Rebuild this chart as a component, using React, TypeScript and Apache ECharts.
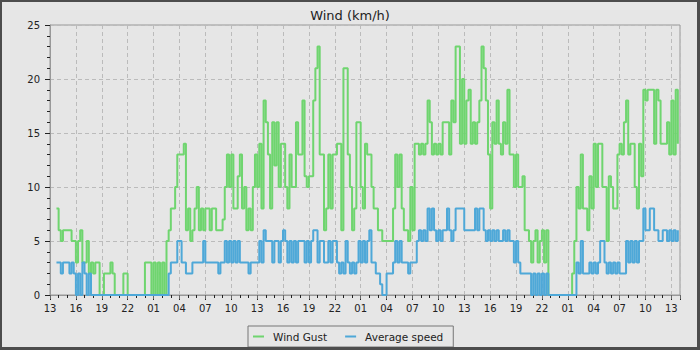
import React, { useEffect, useRef } from "react";
import * as echarts from "echarts";

// Hours since 13:00 on day 1; one sample every 15 minutes (4 per row = 1 hour)
const START_HOUR = 13;
const SAMPLE_STEP_H = 0.25;
const AXIS_MAX_H = 73;

const gustKmh: (number | null)[] = [
  null, null, null, 8, // 13h
  6, 5, 6, 6,
  6, 6, 5, 5,
  3, 5, 6, 3, // 16h
  3, 5, 2, 3,
  2, 3, 3, 0,
  0, 2, 2, 2, // 19h
  3, 2, 0, 0,
  0, 0, 2, 2,
  0, 0, 0, 0, // 22h
  0, 0, 0, 0,
  3, 3, 3, 0,
  3, 0, 3, 0, // 01h
  3, 0, 5, 6,
  8, 8, 10, 13,
  13, 13, 14, 6, // 04h
  8, 5, 6, 8,
  10, 6, 8, 6,
  8, 8, 6, 8, // 07h
  8, 6, 6, 6,
  7, 10, 13, 10,
  13, 8, 8, 11, // 10h
  13, 8, 10, 6,
  8, 6, 10, 13,
  10, 14, 8, 18, // 13h
  16, 13, 8, 16,
  12, 16, 10, 14,
  14, 10, 8, 13, // 16h
  10, 10, 16, 13,
  13, 18, 11, 10,
  11, 11, 18, 21, // 19h
  23, 13, 13, 6,
  8, 13, 8, 13,
  13, 14, 14, 6, // 22h
  21, 21, 13, 10,
  6, 8, 16, 16,
  10, 8, 14, 13, // 01h
  13, 10, 8, 8,
  6, 6, 5, 5,
  5, 5, 5, 8, // 04h
  13, 10, 13, 8,
  6, 6, 5, 10,
  6, 14, 14, 13, // 07h
  14, 13, 14, 18,
  16, 13, 14, 13,
  14, 13, 16, 16, // 10h
  16, 13, 18, 16,
  23, 23, 14, 20,
  14, 18, 19, 14, // 13h
  16, 14, 16, 18,
  23, 21, 18, 13,
  8, 16, 14, 18, // 16h
  14, 13, 16, 14,
  19, 13, 13, 10,
  13, 10, 10, 11, // 19h
  6, 6, 5, 3,
  5, 6, 3, 5,
  6, 3, 6, 0, // 22h
  0, 0, 0, 0,
  0, 0, 0, 0,
  0, 0, 2, 5, // 01h
  10, 8, 13, 8,
  8, 6, 11, 8,
  14, 10, 14, 14, // 04h
  10, 10, 5, 11,
  10, 8, 8, 13,
  14, 13, 16, 18, // 07h
  13, 14, 14, 10,
  8, 14, 11, 19,
  18, 19, 19, 19, // 10h
  14, 19, 18, 14,
  14, 14, 16, 13,
  18, 13, 19, 14, // 13h
];

const avgKmh: (number | null)[] = [
  null, null, null, 3, // 13h
  3, 2, 3, 3,
  3, 2, 3, 2,
  0, 2, 0, 3, // 16h
  2, 0, 2, 0,
  0, 0, 0, 0,
  0, 0, 0, 0, // 19h
  0, 0, 0, 0,
  0, 0, 0, 0,
  0, 0, 0, 0, // 22h
  0, 0, 0, 0,
  0, 0, 0, 0,
  0, 0, 0, 0, // 01h
  0, 0, 0, 2,
  3, 3, 3, 5,
  5, 3, 3, 2, // 04h
  2, 2, 3, 3,
  3, 3, 3, 5,
  3, 3, 3, 3, // 07h
  3, 3, 2, 3,
  3, 5, 3, 5,
  3, 5, 3, 5, // 10h
  3, 3, 3, 3,
  2, 3, 3, 3,
  3, 5, 3, 6, // 13h
  5, 5, 5, 3,
  5, 5, 3, 5,
  6, 5, 3, 5, // 16h
  3, 5, 3, 5,
  5, 5, 3, 5,
  3, 5, 6, 6, // 19h
  3, 5, 5, 3,
  3, 5, 3, 5,
  5, 3, 2, 3, // 22h
  2, 5, 3, 2,
  3, 2, 3, 5,
  3, 5, 3, 5, // 01h
  6, 3, 3, 2,
  2, 1, 0, 0,
  2, 2, 2, 3, // 04h
  5, 3, 5, 3,
  3, 3, 2, 3,
  3, 3, 5, 6, // 07h
  5, 6, 5, 8,
  6, 8, 6, 5,
  6, 5, 6, 6, // 10h
  8, 6, 5, 6,
  8, 8, 8, 8,
  6, 6, 6, 6, // 13h
  6, 8, 6, 8,
  8, 6, 5, 6,
  5, 6, 5, 6, // 16h
  5, 5, 6, 5,
  6, 5, 5, 3,
  5, 3, 2, 2, // 19h
  2, 2, 2, 0,
  2, 0, 2, 0,
  2, 0, 2, 0, // 22h
  0, 0, 0, 0,
  0, 0, 0, 0,
  0, 0, 0, 0, // 01h
  3, 2, 5, 2,
  2, 2, 3, 2,
  3, 2, 3, 5, // 04h
  5, 3, 2, 3,
  2, 3, 2, 3,
  2, 2, 2, 5, // 07h
  3, 5, 3, 5,
  3, 5, 5, 8,
  6, 6, 8, 8, // 10h
  6, 6, 5, 5,
  6, 6, 5, 6,
  5, 6, 5, 6, // 13h
];

const FONT = "DejaVu Sans";
const GUST_COLOR = "#6fd56f";
const AVG_COLOR = "#4ea8d8";

function toPairs(arr: (number | null)[]) {
  const out: [number, number][] = [];
  arr.forEach((v, i) => {
    if (v !== null) out.push([i * SAMPLE_STEP_H, v]);
  });
  return out;
}

export default function App() {
  const ref = useRef<HTMLDivElement>(null);
  useEffect(() => {
    document.body.style.margin = "0";
    const chart = echarts.init(ref.current!, null, { renderer: "svg" });
    const hourLabel = (v: number) =>
      String((START_HOUR + Math.round(v)) % 24).padStart(2, "0");
    chart.setOption({
      animation: false,
      backgroundColor: "transparent",
      title: {
        text: "Wind (km/h)",
        left: "center",
        top: 4,
        textStyle: { fontFamily: FONT, fontSize: 13, fontWeight: "normal", color: "#222" },
      },
      grid: {
        left: 50,
        right: 20,
        top: 25,
        bottom: 55,
        show: true,
        borderColor: "#999",
        borderWidth: 1,
        backgroundColor: "transparent",
      },
      legend: {
        left: 248,
        top: 326,
        orient: "horizontal",
        borderColor: "#777",
        borderWidth: 1,
        padding: [5, 10, 5, 5],
        itemGap: 18,
        itemWidth: 11,
        itemHeight: 2,
        icon: "rect",
        textStyle: { fontFamily: FONT, fontSize: 10.5, color: "#222", padding: [0, 0, 0, 4] },
        data: ["Wind Gust", "Average speed"],
      },
      xAxis: [
        {
          type: "value",
          position: "bottom",
          min: 0,
          max: AXIS_MAX_H,
          interval: 3,
          axisLine: { show: true, onZero: false, lineStyle: { color: "#999" } },
          axisTick: { show: true, length: 5, lineStyle: { color: "#222" } },
          minorTick: { show: true, splitNumber: 3, length: 3, lineStyle: { color: "#222" } },
          axisLabel: {
            formatter: hourLabel,
            fontFamily: FONT,
            fontSize: 10,
            color: "#222",
            margin: 8,
            showMaxLabel: false,
          },
          splitLine: { show: true, lineStyle: { color: "#bbb", type: [4, 3] } },
        },
        {
          type: "value",
          position: "top",
          min: 0,
          max: AXIS_MAX_H,
          interval: 3,
          axisLine: { show: true, lineStyle: { color: "#999" } },
          axisTick: { show: true, inside: true, length: 4, lineStyle: { color: "#666" } },
          axisLabel: { show: false },
          splitLine: { show: false },
        },
      ],
      yAxis: {
        type: "value",
        min: 0,
        max: 25,
        interval: 5,
        axisLine: { show: true, lineStyle: { color: "#999" } },
        axisTick: { show: true, length: 5, lineStyle: { color: "#222" } },
        minorTick: { show: true, splitNumber: 5, length: 3, lineStyle: { color: "#222" } },
        axisLabel: { fontFamily: FONT, fontSize: 10, color: "#222", margin: 10 },
        splitLine: { show: true, lineStyle: { color: "#bbb", type: [4, 3] } },
      },
      series: [
        {
          name: "Wind Gust",
          type: "line",
          step: "end",
          xAxisIndex: 0,
          data: toPairs(gustKmh),
          symbol: "none",
          showSymbol: false,
          color: GUST_COLOR,
          lineStyle: { color: GUST_COLOR, width: 2 },
        },
        {
          name: "Average speed",
          type: "line",
          step: "end",
          xAxisIndex: 0,
          data: toPairs(avgKmh),
          symbol: "none",
          showSymbol: false,
          color: AVG_COLOR,
          lineStyle: { color: AVG_COLOR, width: 2 },
        },
      ],
    });
    return () => chart.dispose();
  }, []);
  return (
    <div style={{ position: "relative", width: 700, height: 350, background: "#e6e6e6" }}>
      <div ref={ref} style={{ position: "absolute", left: 0, top: 0, width: 700, height: 350 }} />
      <div
        style={{
          position: "absolute",
          left: 0,
          top: 0,
          width: 700,
          height: 350,
          boxSizing: "border-box",
          borderStyle: "solid",
          borderColor: "#4d4d4d",
          borderWidth: "2px 3px 3px 2px",
          pointerEvents: "none",
        }}
      />
    </div>
  );
}
